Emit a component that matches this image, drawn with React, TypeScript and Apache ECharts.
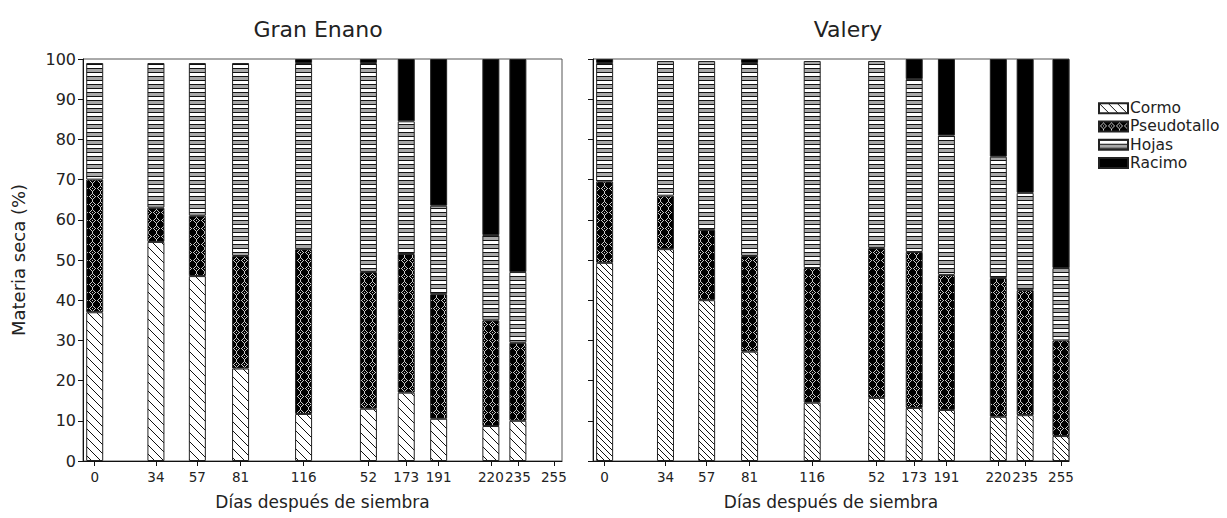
import React, { useEffect, useRef } from 'react';
import * as echarts from 'echarts';

const seriesNames = ['Cormo', 'Pseudotallo', 'Hojas', 'Racimo'];
const xTickValues = [0, 34, 57, 81, 116, 152, 173, 191, 220, 235, 255];
const xTickLabels = ['0', '34', '57', '81', '116', '52', '173', '191', '220', '235', '255'];
const dayFrom = -6;
const dayTo = 259;

const gDays = [0, 34, 57, 81, 116, 152, 173, 191, 220, 235];
const gCormo = [37, 54.5, 46, 23, 11.7, 13, 17, 10.5, 8.7, 10];
const gPseudo = [33, 8.5, 15, 28, 41, 34, 34.5, 31, 26.3, 19.4];
const gHojas = [29, 36, 38, 48, 46.3, 52, 33, 22, 21.2, 17.6];
const gRacimo = [0, 0, 0, 0, 1, 1, 15.5, 36.5, 43.8, 53];

const vDays = [0, 34, 57, 81, 116, 152, 173, 191, 220, 235, 255];
const vCormo = [49.3, 52.7, 40, 27.2, 14.5, 15.7, 13.2, 12.7, 11, 11.4, 6.2];
const vPseudo = [20.2, 13.3, 17.5, 23.8, 33.5, 37.3, 38.8, 33.6, 34.5, 31.1, 23.8];
const vHojas = [29.5, 33.5, 42, 48, 51.5, 46.5, 43, 34.7, 30.2, 24.2, 18];
const vRacimo = [1, 0, 0, 1, 0, 0, 5, 19, 24.3, 33.3, 52];

const FONT = 'DejaVu Sans';

function tile(w: number, h: number, draw: (ctx: CanvasRenderingContext2D) => void) {
  const c = document.createElement('canvas');
  c.width = w;
  c.height = h;
  const ctx = c.getContext('2d') as CanvasRenderingContext2D;
  draw(ctx);
  return { image: c.toDataURL(), repeat: 'repeat', imageWidth: w, imageHeight: h } as any;
}

function hatch(s: number) {
  return tile(s, s, (ctx) => {
    ctx.fillStyle = '#fff';
    ctx.fillRect(0, 0, s, s);
    ctx.fillStyle = '#111';
    for (let i = 0; i < s; i++) ctx.fillRect(i, i, 1, 1);
  });
}

function diamonds() {
  return tile(8, 8, (ctx) => {
    ctx.fillStyle = '#000';
    ctx.fillRect(0, 0, 8, 8);
    ctx.fillStyle = '#c8c8c8';
    const pts = [
      [4, 1], [3, 2], [5, 2], [2, 3], [6, 3], [1, 4], [7, 4], [4, 4],
      [2, 5], [6, 5], [3, 6], [5, 6], [4, 7], [4, 0],
    ];
    pts.forEach(([x, y]) => ctx.fillRect(x, y, 1, 1));
  });
}

function stripes() {
  return tile(4, 8, (ctx) => {
    const rows = ['#111', '#fff', '#fff', '#fff', '#111', '#a8a8a8', '#a8a8a8', '#a8a8a8'];
    rows.forEach((col, i) => {
      ctx.fillStyle = col;
      ctx.fillRect(0, i, 4, 1);
    });
  });
}

export default function App() {
  const ref = useRef<HTMLDivElement>(null);
  useEffect(() => {
    document.body.style.margin = '0';
    if (!ref.current) return;
    const chart = echarts.init(ref.current, undefined, { renderer: 'svg' });

    const categories: string[] = [];
    for (let d = dayFrom; d <= dayTo; d++) categories.push(String(d));

    const patG = [hatch(9), diamonds(), stripes(), '#000'];
    const patV = [hatch(6), diamonds(), stripes(), '#000'];

    const toData = (days: number[], vals: number[]) => {
      const arr: (number | null)[] = categories.map(() => null);
      days.forEach((d, i) => {
        arr[d - dayFrom] = vals[i] === 0 ? null : vals[i];
      });
      return arr;
    };

    const gVals = [gCormo, gPseudo, gHojas, gRacimo];
    const vVals = [vCormo, vPseudo, vHojas, vRacimo];

    const series: any[] = [];
    seriesNames.forEach((name, k) => {
      series.push({
        name,
        type: 'bar',
        stack: 'g',
        xAxisIndex: 0,
        yAxisIndex: 0,
        barWidth: 17,
        data: toData(gDays, gVals[k]),
        itemStyle: { color: patG[k], borderColor: '#222', borderWidth: 1 },
      });
    });
    seriesNames.forEach((name, k) => {
      series.push({
        name,
        type: 'bar',
        stack: 'v',
        xAxisIndex: 1,
        yAxisIndex: 1,
        barWidth: 17,
        data: toData(vDays, vVals[k]),
        itemStyle: { color: patV[k], borderColor: '#222', borderWidth: 1 },
      });
    });

    const isTick = (_i: number, v: string) => xTickValues.indexOf(Number(v)) >= 0;
    const labelFmt = (v: string) => {
      const i = xTickValues.indexOf(Number(v));
      return i >= 0 ? xTickLabels[i] : '';
    };

    const xAxisBase = (gi: number) => ({
      type: 'category',
      gridIndex: gi,
      data: categories,
      splitLine: { show: false },
      axisLine: { lineStyle: { color: '#111', width: 1 } },
      axisTick: { show: true, length: 5, alignWithLabel: true, interval: isTick, lineStyle: { color: '#111' } },
      axisLabel: {
        interval: isTick,
        formatter: labelFmt,
        fontFamily: FONT,
        fontSize: 13.5,
        color: '#222',
        margin: 9,
        hideOverlap: false,
      },
      name: 'Días después de siembra',
      nameLocation: 'middle',
      nameGap: 32,
      nameTextStyle: { fontFamily: FONT, fontSize: 17, color: '#222' },
    });

    const yAxisBase = (gi: number, labels: boolean) => ({
      type: 'value',
      gridIndex: gi,
      min: 0,
      max: 100,
      interval: 10,
      splitLine: { show: false },
      axisLine: { show: true, onZero: false, lineStyle: { color: '#111', width: 1 } },
      axisTick: { show: true, length: 5, lineStyle: { color: '#111' } },
      axisLabel: { show: labels, fontFamily: FONT, fontSize: 16, color: '#222', margin: 7 },
      name: labels ? 'Materia seca (%)' : '',
      nameLocation: 'middle',
      nameGap: 56,
      nameTextStyle: { fontFamily: FONT, fontSize: 18, color: '#222' },
    });

    chart.setOption({
      animation: false,
      backgroundColor: '#fff',
      title: [
        { text: 'Gran Enano', left: 313, top: 13, textAlign: 'center', textStyle: { fontFamily: FONT, fontSize: 22, fontWeight: 'normal', color: '#222' } },
        { text: 'Valery', left: 843, top: 13, textAlign: 'center', textStyle: { fontFamily: FONT, fontSize: 22, fontWeight: 'normal', color: '#222' } },
      ],
      legend: {
        data: seriesNames,
        orient: 'vertical',
        left: 1093,
        top: 94,
        itemWidth: 29,
        itemHeight: 10,
        itemGap: 0,
        icon: 'rect',
        textStyle: { fontFamily: FONT, fontSize: 15.5, lineHeight: 18.3, color: '#222', padding: [0, 0, 0, -3] },
        selectedMode: false,
      },
      grid: [
        { left: 83, top: 59, width: 479, height: 402, show: true, borderColor: '#555', borderWidth: 1 },
        { left: 593, top: 59, width: 476, height: 402, show: true, borderColor: '#555', borderWidth: 1 },
      ],
      xAxis: [xAxisBase(0), xAxisBase(1)],
      yAxis: [yAxisBase(0, true), yAxisBase(1, false)],
      series,
    });
    return () => chart.dispose();
  }, []);
  return <div ref={ref} style={{ width: 1227, height: 518 }} />;
}
